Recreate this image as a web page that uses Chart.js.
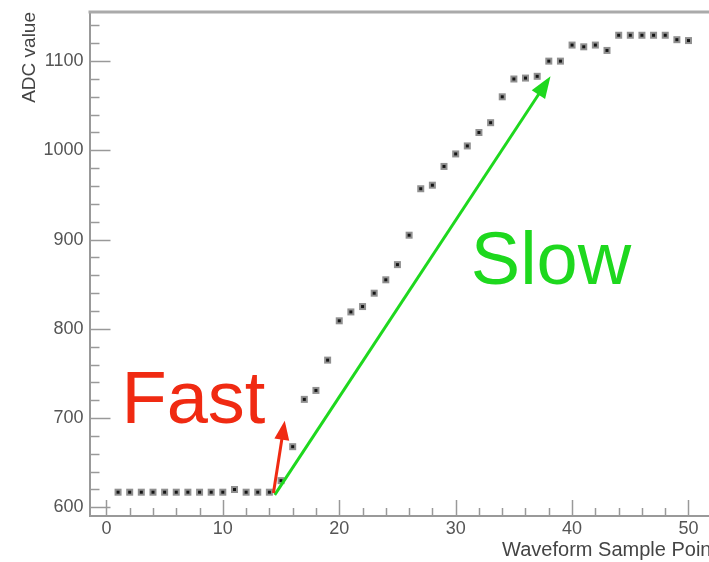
<!DOCTYPE html>
<html>
<head>
<meta charset="utf-8">
<script src="https://cdn.jsdelivr.net/npm/chart.js@4/dist/chart.umd.min.js"></script>
<style>
  html, body { margin: 0; padding: 0; background: #fff; overflow: hidden; }
  #wrap { position: relative; width: 723px; height: 562px; }
</style>
</head>
<body>
<div id="wrap"><canvas id="c" width="723" height="562"></canvas></div>
<script>
// Waveform samples: index and ADC reading
const samplePoints = [
  1, 2, 3, 4, 5, 6, 7, 8, 9, 10,
  11, 12, 13, 14, 15, 16, 17, 18, 19, 20,
  21, 22, 23, 24, 25, 26, 27, 28, 29, 30,
  31, 32, 33, 34, 35, 36, 37, 38, 39, 40,
  41, 42, 43, 44, 45, 46, 47, 48, 49, 50
];
const adcValues = [
  617, 617, 617, 617, 617, 617, 617, 617, 617, 617,
  620, 617, 617, 617, 630, 668, 721, 731, 765, 809,
  819, 825, 840, 855, 872, 905, 957, 961, 982, 996,
  1005, 1020, 1031, 1060, 1080, 1081, 1083, 1100, 1100, 1118,
  1116, 1118, 1112, 1129, 1129, 1129, 1129, 1129, 1124, 1123
];

// Axis ticks
const xTickValues = [0, 10, 20, 30, 40, 50];
const yTickValues = [600, 700, 800, 900, 1000, 1100];
const xMinorStep = 2;
const yMinorStep = 20;

// Rise-time annotations (data coordinates)
const fastArrowX = [14.35, 15.32];
const fastArrowY = [616, 697];
const slowArrowX = [14.46, 38.15];
const slowArrowY = [614, 1083];
const fastLabel = { text: 'Fast', x: 1.3, y: 694 };
const slowLabel = { text: 'Slow', x: 31.3, y: 850 };

const FONT = '"Liberation Sans", Arial, Helvetica, sans-serif';
const RED = '#f02a12';
const GREEN = '#1ed81e';

// Small blurred square marker with a dark core
function makeMarker() {
  const m = document.createElement('canvas');
  m.width = 11; m.height = 11;
  const g = m.getContext('2d');
  g.filter = 'blur(0.7px)';
  g.fillStyle = 'rgba(70,70,70,0.6)';
  g.fillRect(2, 2, 7, 7);
  g.fillStyle = '#151515';
  g.fillRect(4, 4, 3, 3);
  return m;
}

function drawArrow(ctx, x0, y0, x1, y1, color, width, headLen, headHalf) {
  const ang = Math.atan2(y1 - y0, x1 - x0);
  const bx = x1 - headLen * Math.cos(ang);
  const by = y1 - headLen * Math.sin(ang);
  ctx.save();
  ctx.strokeStyle = color;
  ctx.fillStyle = color;
  ctx.lineWidth = width;
  ctx.lineCap = 'butt';
  ctx.beginPath();
  ctx.moveTo(x0, y0);
  ctx.lineTo(bx + 2 * Math.cos(ang), by + 2 * Math.sin(ang));
  ctx.stroke();
  const px = -Math.sin(ang), py = Math.cos(ang);
  ctx.beginPath();
  ctx.moveTo(x1, y1);
  ctx.lineTo(bx + px * headHalf, by + py * headHalf);
  ctx.lineTo(bx - px * headHalf, by - py * headHalf);
  ctx.closePath();
  ctx.fill();
  ctx.restore();
}

// Frame line on top plus inward major/minor ticks
const framePlugin = {
  id: 'frameTicks',
  beforeDatasetsDraw(chart) {
    const { ctx, chartArea: a, scales: { x, y } } = chart;
    ctx.save();
    ctx.strokeStyle = '#aaa';
    ctx.lineWidth = 3;
    ctx.beginPath();
    ctx.moveTo(a.left - 1, a.top);
    ctx.lineTo(a.right, a.top);
    ctx.stroke();

    ctx.strokeStyle = '#999';
    ctx.lineWidth = 1.5;
    // x ticks (pointing up from the bottom axis)
    for (let v = Math.ceil(x.min / xMinorStep) * xMinorStep; v <= x.max; v += xMinorStep) {
      const px = Math.round(x.getPixelForValue(v)) + 0.5;
      const len = (v % 10 === 0) ? 16 : 8;
      ctx.beginPath();
      ctx.moveTo(px, a.bottom);
      ctx.lineTo(px, a.bottom - len);
      ctx.stroke();
    }
    // y ticks (pointing right from the left axis)
    for (let v = Math.ceil(y.min / yMinorStep) * yMinorStep; v <= y.max; v += yMinorStep) {
      const py = Math.round(y.getPixelForValue(v)) + 0.5;
      const len = (v % 100 === 0) ? 21 : 10;
      ctx.beginPath();
      ctx.moveTo(a.left, py);
      ctx.lineTo(a.left + len, py);
      ctx.stroke();
    }
    ctx.restore();
  },
  afterDatasetsDraw(chart) {
    const { ctx, scales: { x, y } } = chart;
    drawArrow(ctx,
      x.getPixelForValue(slowArrowX[0]), y.getPixelForValue(slowArrowY[0]),
      x.getPixelForValue(slowArrowX[1]), y.getPixelForValue(slowArrowY[1]),
      GREEN, 3, 22, 8);
    drawArrow(ctx,
      x.getPixelForValue(fastArrowX[0]), y.getPixelForValue(fastArrowY[0]),
      x.getPixelForValue(fastArrowX[1]), y.getPixelForValue(fastArrowY[1]),
      RED, 3, 19, 7.5);
    ctx.save();
    ctx.font = '74px ' + FONT;
    ctx.textBaseline = 'alphabetic';
    ctx.textAlign = 'left';
    ctx.fillStyle = RED;
    ctx.fillText(fastLabel.text, x.getPixelForValue(fastLabel.x), y.getPixelForValue(fastLabel.y));
    ctx.fillStyle = GREEN;
    ctx.fillText(slowLabel.text, x.getPixelForValue(slowLabel.x), y.getPixelForValue(slowLabel.y));
    ctx.restore();
  }
};

const points = samplePoints.map((s, i) => ({ x: s, y: adcValues[i] }));

new Chart(document.getElementById('c'), {
  type: 'scatter',
  data: {
    datasets: [{
      label: 'ADC value',
      data: points,
      pointStyle: makeMarker(),
      pointRadius: 5,
      showLine: false
    }]
  },
  options: {
    responsive: false,
    animation: false,
    layout: { padding: { top: 12, right: 2.5, left: 0, bottom: 0 } },
    plugins: { legend: { display: false }, tooltip: { enabled: false } },
    scales: {
      x: {
        type: 'linear',
        min: -1.45,
        max: 52.45,
        grid: { display: false, drawTicks: false },
        border: { display: true, color: '#999', width: 2 },
        afterBuildTicks: (s) => { s.ticks = xTickValues.map(v => ({ value: v })); },
        afterFit: (s) => { s.height = 46; s.paddingLeft = 0; s.paddingRight = 0; },
        ticks: {
          font: { family: FONT, size: 18 },
          color: '#555',
          padding: 2,
          maxRotation: 0,
          callback: (v) => String(v)
        },
        title: {
          display: true,
          text: 'Waveform Sample Point',
          align: 'end',
          color: '#444',
          font: { family: FONT, size: 20 },
          padding: { top: 0, bottom: 0 }
        }
      },
      y: {
        type: 'linear',
        min: 590.3,
        max: 1155,
        grid: { display: false, drawTicks: false },
        border: { display: true, color: '#999', width: 2 },
        afterBuildTicks: (s) => { s.ticks = yTickValues.map(v => ({ value: v })); },
        afterFit: (s) => { s.width = 89.5; s.paddingTop = 0; s.paddingBottom = 0; },
        ticks: {
          font: { family: FONT, size: 18 },
          color: '#555',
          padding: 6,
          callback: (v) => String(v)
        },
        title: {
          display: true,
          text: 'ADC value',
          align: 'end',
          color: '#444',
          font: { family: FONT, size: 19 },
          padding: { top: 18, bottom: 0 }
        }
      }
    }
  },
  plugins: [framePlugin]
});
</script>
</body>
</html>
